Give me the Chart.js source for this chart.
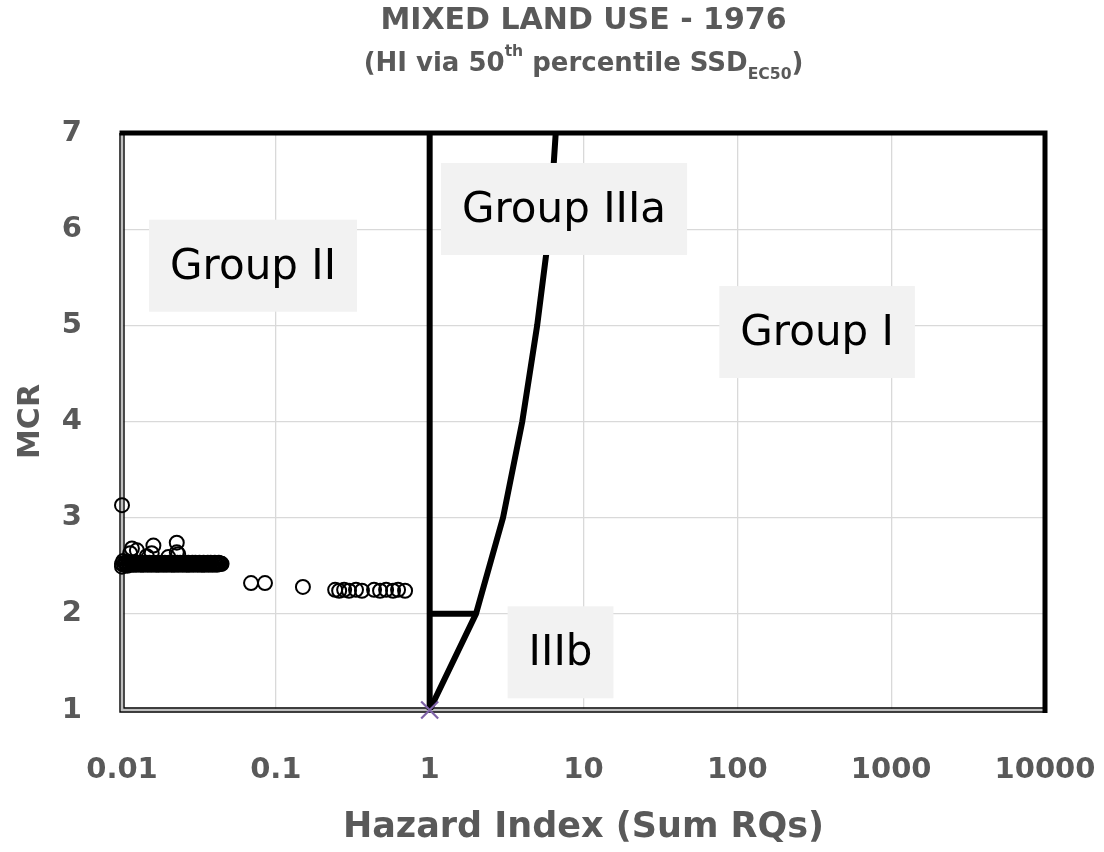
<!DOCTYPE html>
<html>
<head>
<meta charset="utf-8">
<script src="https://cdn.jsdelivr.net/npm/chart.js@4.4.1/dist/chart.umd.min.js"></script>
<style>
  html, body { margin: 0; padding: 0; background: #fff; }
  #wrap { position: relative; width: 1104px; height: 852px; }
  #chart { position: absolute; left: 0; top: 0; }
  .ttl { position: absolute; left: 122px; width: 923px; text-align: center; color: #595959;
         font-family: "DejaVu Sans", sans-serif; font-weight: bold; white-space: nowrap; }
  #t1 { top: 2px; font-size: 30px; line-height: 34px; }
  #t2 { top: 47px; font-size: 26px; line-height: 30px; }
  .sup { font-size: 0.6em; position: relative; top: -0.95em; }
  .sub { font-size: 0.6em; position: relative; top: 0.5em; }
</style>
</head>
<body>
<div id="wrap">
  <canvas id="chart" width="1104" height="852"></canvas>
  <div class="ttl" id="t1">MIXED LAND USE - 1976</div>
  <div class="ttl" id="t2">(HI via 50<span class="sup">th</span> percentile SSD<span class="sub">EC50</span>)</div>
</div>
<script>
// axis ticks
const xTickValues = [0.01, 0.1, 1, 10, 100, 1000, 10000];
const xTickLabels = ['0.01', '0.1', '1', '10', '100', '1000', '10000'];
const yTickValues = [1, 2, 3, 4, 5, 6, 7];

// dense cloud of samples at MCR ~2.5 (reads as a solid bar)
const bandHI = [
  0.0100, 0.0100, 0.0102, 0.0103, 0.0105, 0.0106, 0.0108, 0.0110, 0.0111, 0.0113,
  0.0115, 0.0117, 0.0118, 0.0120, 0.0122, 0.0124, 0.0126, 0.0128, 0.0130, 0.0132,
  0.0134, 0.0136, 0.0138, 0.0140, 0.0142, 0.0144, 0.0147, 0.0149, 0.0151, 0.0154,
  0.0156, 0.0158, 0.0161, 0.0163, 0.0166, 0.0168, 0.0171, 0.0174, 0.0176, 0.0179,
  0.0182, 0.0185, 0.0187, 0.0190, 0.0193, 0.0196, 0.0199, 0.0202, 0.0206, 0.0209,
  0.0212, 0.0215, 0.0219, 0.0222, 0.0225, 0.0229, 0.0232, 0.0236, 0.0239, 0.0243,
  0.0247, 0.0250, 0.0254, 0.0258, 0.0262, 0.0266, 0.0270, 0.0274, 0.0278, 0.0283,
  0.0287, 0.0291, 0.0296, 0.0300, 0.0305, 0.0310, 0.0314, 0.0319, 0.0324, 0.0329,
  0.0334, 0.0339, 0.0344, 0.0350, 0.0355, 0.0361, 0.0366, 0.0372, 0.0377, 0.0383,
  0.0389, 0.0395, 0.0401, 0.0407, 0.0414, 0.0420, 0.0426, 0.0433, 0.0440, 0.0444
];
const bandMCR = [
  2.52, 2.49, 2.55, 2.51, 2.53, 2.52, 2.50, 2.53, 2.52, 2.51,
  2.53, 2.52, 2.51, 2.52, 2.53, 2.51, 2.52, 2.53, 2.52, 2.51,
  2.52, 2.53, 2.51, 2.52, 2.52, 2.53, 2.51, 2.52, 2.53, 2.52,
  2.51, 2.52, 2.53, 2.52, 2.51, 2.52, 2.53, 2.51, 2.52, 2.52,
  2.53, 2.51, 2.52, 2.53, 2.52, 2.51, 2.52, 2.53, 2.52, 2.51,
  2.52, 2.53, 2.51, 2.52, 2.52, 2.53, 2.51, 2.52, 2.53, 2.52,
  2.51, 2.52, 2.53, 2.52, 2.51, 2.52, 2.53, 2.51, 2.52, 2.52,
  2.53, 2.51, 2.52, 2.53, 2.52, 2.51, 2.52, 2.53, 2.52, 2.51,
  2.52, 2.53, 2.51, 2.52, 2.52, 2.53, 2.51, 2.52, 2.53, 2.52,
  2.51, 2.52, 2.53, 2.52, 2.51, 2.52, 2.53, 2.52, 2.52, 2.52
];

// remaining samples
const otherHI = [
  0.0100, 0.0116, 0.0125, 0.0113, 0.0160, 0.0156, 0.0227, 0.0227, 0.0232, 0.0145, 0.0200,
  0.069, 0.085, 0.150,
  0.243, 0.258, 0.278, 0.299, 0.332, 0.363, 0.435, 0.476, 0.521, 0.578, 0.623, 0.692
];
const otherMCR = [
  3.13, 2.68, 2.66, 2.63, 2.71, 2.63, 2.74, 2.64, 2.62, 2.60, 2.59,
  2.32, 2.32, 2.28,
  2.25, 2.24, 2.25, 2.24, 2.25, 2.24, 2.25, 2.24, 2.25, 2.24, 2.25, 2.24
];

// group boundaries
const vertHI = [1, 1];
const vertMCR = [1, 7];
const horizHI = [1, 2];
const horizMCR = [2, 2];
const curveHI = [1, 2, 3, 4, 5, 6, 6.6];
const curveMCR = [1, 2, 3, 4, 5, 6, 7];
const originHI = [1];
const originMCR = [1];

// group labels
const groupNames = ['Group II', 'Group IIIa', 'Group I', 'IIIb'];
const groupHI = [0.0711, 7.47, 330, 7.09];
const groupMCR = [5.62, 6.21, 4.93, 1.60];

const pts = (xs, ys) => xs.map((x, i) => ({ x: x, y: ys[i] }));

const labelBoxes = {
    id: 'labelBoxes',
    afterDatasetsDraw(chart) {
        const c = chart.ctx;
        const xs = chart.scales.x, ys = chart.scales.y;
        c.save();
        c.font = '42px "DejaVu Sans"';
        c.textAlign = 'center';
        c.textBaseline = 'middle';
        groupNames.forEach((name, i) => {
            const px = xs.getPixelForValue(groupHI[i]);
            const py = ys.getPixelForValue(groupMCR[i]);
            const w = c.measureText(name).width + 42;
            const h = 92;
            c.fillStyle = '#f2f2f2';
            c.fillRect(px - w / 2, py - h / 2, w, h);
            c.fillStyle = '#000';
            c.fillText(name, px, py + 2);
        });
        c.restore();
    }
};

// plot frame sits over the grid but under the marks
const plotFrame = {
    id: 'plotFrame',
    beforeDatasetsDraw(chart) {
        const c = chart.ctx;
        const { left, right, top, bottom } = chart.chartArea;
        c.save();
        // left and bottom: double line
        c.lineWidth = 2.5;
        c.strokeStyle = '#bfbfbf';
        c.beginPath();
        c.moveTo(left, top); c.lineTo(left, bottom); c.lineTo(right, bottom);
        c.stroke();
        c.lineWidth = 1.4;
        c.strokeStyle = '#000';
        c.beginPath();
        c.moveTo(left - 2, top); c.lineTo(left - 2, bottom + 2); c.lineTo(right, bottom + 2);
        c.stroke();
        c.beginPath();
        c.moveTo(left + 2, top); c.lineTo(left + 2, bottom - 2); c.lineTo(right, bottom - 2);
        c.stroke();
        // top and right: heavy line
        c.lineWidth = 5;
        c.lineJoin = 'miter';
        c.beginPath();
        c.moveTo(left - 2.5, top); c.lineTo(right, top); c.lineTo(right, bottom + 3);
        c.stroke();
        c.restore();
    }
};

const tickFont = { family: 'DejaVu Sans', weight: 'bold', size: 29 };

new Chart(document.getElementById('chart'), {
    type: 'scatter',
    data: {
        datasets: [
            {
                label: 'Samples',
                data: pts(bandHI, bandMCR).concat(pts(otherHI, otherMCR)),
                pointRadius: 7,
                pointBorderWidth: 2,
                borderColor: '#000',
                backgroundColor: 'rgba(0,0,0,0)',
                clip: false
            },
            {
                label: 'HI = 1',
                data: pts(vertHI, vertMCR),
                showLine: true, pointRadius: 0,
                borderColor: '#000', borderWidth: 6
            },
            {
                label: 'MCR = 2',
                data: pts(horizHI, horizMCR),
                showLine: true, pointRadius: 0,
                borderColor: '#000', borderWidth: 6
            },
            {
                label: 'MCR = HI',
                data: pts(curveHI, curveMCR),
                showLine: true, pointRadius: 0,
                borderColor: '#000', borderWidth: 6
            },
            {
                label: 'Origin',
                data: pts(originHI, originMCR),
                pointStyle: 'crossRot',
                pointRadius: 12,
                pointBorderWidth: 2.2,
                borderColor: '#7f63a8',
                clip: false,
                order: -1
            }
        ]
    },
    options: {
        responsive: false,
        animation: false,
        devicePixelRatio: 1,
        layout: { padding: { top: 133, right: 59, left: 0, bottom: 0 } },
        plugins: {
            legend: { display: false },
            tooltip: { enabled: false }
        },
        scales: {
            x: {
                type: 'logarithmic',
                min: 0.01,
                max: 10000,
                afterBuildTicks: (s) => { s.ticks = xTickValues.map(v => ({ value: v })); },
                afterFit: (s) => { s.height = 142; s.paddingLeft = 0; s.paddingRight = 0; },
                grid: { color: '#d9d9d9', lineWidth: 1.3, drawTicks: false },
                border: { display: false },
                ticks: {
                    font: tickFont, color: '#595959', padding: 43, maxRotation: 0, autoSkip: false,
                    callback: (v) => { const i = xTickValues.indexOf(v); return i < 0 ? '' : xTickLabels[i]; }
                },
                title: {
                    display: true, text: 'Hazard Index (Sum RQs)', color: '#595959',
                    font: { family: 'DejaVu Sans', weight: 'bold', size: 35 },
                    padding: { top: 0, bottom: 3 }
                }
            },
            y: {
                min: 1,
                max: 7,
                afterBuildTicks: (s) => { s.ticks = yTickValues.map(v => ({ value: v })); },
                afterFit: (s) => { s.width = 122; s.paddingTop = 0; s.paddingBottom = 0; },
                grid: { color: '#d9d9d9', lineWidth: 1.3, drawTicks: false },
                border: { display: false },
                ticks: { font: tickFont, color: '#595959', padding: 40 },
                title: {
                    display: true, text: 'MCR', color: '#595959',
                    font: { family: 'DejaVu Sans', weight: 'bold', size: 30 },
                    padding: { top: 13, bottom: 0 }
                }
            }
        }
    },
    plugins: [labelBoxes, plotFrame]
});
</script>
</body>
</html>
